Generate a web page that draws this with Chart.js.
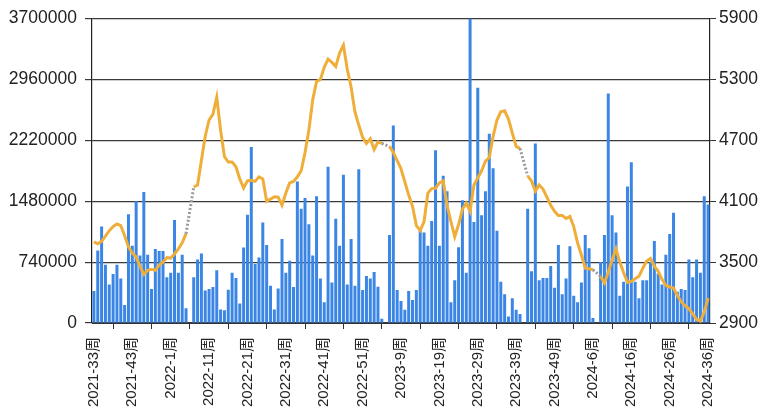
<!DOCTYPE html>
<html>
<head>
<meta charset="utf-8">
<script src="https://cdn.jsdelivr.net/npm/chart.js@4.4.0/dist/chart.umd.min.js"></script>
<style>
  html, body { margin: 0; padding: 0; background: #fff; }
</style>
</head>
<body>
<canvas id="chart" width="764" height="407"></canvas>
<script>
// week ranges shown on the x axis: [year, first week, last week]
const weekRanges = [[2021, 33, 52], [2022, 1, 52], [2023, 1, 53], [2024, 1, 36]];

// weekly volume (left axis), null = no data that week
const volume2021 = [388000, 880000, 1172000, 708000, 468000, 596000, 708000, 540000, 220000, 1320000,
  940000, 1480000, 820000, 1592000, 828000, 412000, 900000, 876000, 876000, 556000];
const volume2022 = [612000, 1252000, 612000, 828000, 180000, null, 556000, 772000, 844000, 396000,
  412000, 436000, 640000, 164000, 156000, 404000, 612000, 548000, 236000, 916000,
  1316000, 2140000, 716000, 796000, 1220000, 948000, 452000, 164000, 420000, 1020000,
  612000, 756000, 436000, 1720000, 1388000, 1520000, 1200000, 820000, 1540000, 540000,
  252000, 1900000, 492000, 1268000, 940000, 1800000, 468000, 1020000, 452000, 1868000,
  400000, 572000];
const volume2023 = [540000, 620000, 440000, 52000, null, 1068000, 2400000, 400000, 268000, 160000,
  388000, 280000, 400000, 1120000, 1100000, 940000, 1240000, 2100000, 940000, 1788000,
  1600000, 252000, 520000, 920000, 1492000, 612000, 3700000, 1228000, 2860000, 1308000,
  1600000, 2300000, 1880000, 1120000, 500000, 348000, 80000, 300000, 160000, 108000,
  null, 1388000, 628000, 2180000, 520000, 548000, 548000, 692000, 428000, 948000,
  348000, 540000, 932000];
const volume2024 = [332000, 252000, 492000, 1068000, 908000, 60000, null, 740000, 1068000, 2788000,
  1308000, 1100000, 332000, 500000, 1660000, 1952000, 500000, 300000, 520000, 520000,
  740000, 996000, 600000, 468000, 828000, 1080000, 1340000, 380000, 412000, 400000,
  772000, 556000, 772000, 612000, 1540000, 1440000];

// weekly price (right axis)
const price2021 = [3700, 3680, 3705, 3755, 3810, 3850, 3875, 3860, 3760, 3650,
  3590, 3550, 3460, 3380, 3420, 3430, 3420, 3470, 3500, 3545];
const price2022 = [3540, 3580, 3630, 3690, 3780, null, 4240, 4260, 4500, 4740,
  4900, 4955, 5124, 4800, 4540, 4486, 4486, 4440, 4320, 4230,
  4300, 4306, 4295, 4340, 4320, 4100, 4120, 4143, 4140, 4060,
  4180, 4280, 4295, 4340, 4400, 4580, 4800, 5100, 5280, 5300,
  5420, 5500, 5467, 5427, 5560, 5637, 5400, 5225, 4980, 4850,
  4730, 4670];
const price2023 = [4715, 4610, 4685, 4670, null, 4640, 4580, 4500, 4420, 4290,
  4160, 4050, 3860, 3810, 3900, 4180, 4224, 4228, 4280, 4300,
  4060, 3900, 3750, 3870, 4020, 4080, 4000, 4260, 4330, 4400,
  4495, 4530, 4740, 4900, 4980, 4990, 4910, 4770, 4640, 4620,
  null, 4350, 4300, 4200, 4260, 4220, 4140, 4060, 4000, 3960,
  3960, 3930, 3950];
const price2024 = [3850, 3690, 3570, 3440, 3435, 3425, null, 3360, 3295, 3400,
  3520, 3630, 3500, 3395, 3300, 3310, 3335, 3360, 3440, 3510,
  3535, 3460, 3410, 3330, 3270, 3255, 3245, 3170, 3110, 3070,
  3040, 2990, 2935, 2920, 3010, 3145];

const weeks = [];
weekRanges.forEach(([year, from, to]) => {
    for (let w = from; w <= to; w++) weeks.push(year + '-' + w + '周');
});
const volume = [].concat(volume2021, volume2022, volume2023, volume2024);
const price = [].concat(price2021, price2022, price2023, price2024);

const fontFamily = "'Liberation Sans', Arial, 'Noto Sans CJK SC', sans-serif";
const gapStyle = (ctx, value) => (ctx.p0.skip || ctx.p1.skip ? value : undefined);

new Chart(document.getElementById('chart').getContext('2d'), {
    data: {
        labels: weeks,
        datasets: [{
            type: 'line',
            label: '价格',
            data: price,
            yAxisID: 'y1',
            borderColor: '#efae3a',
            borderWidth: 3,
            pointRadius: 0,
            tension: 0,
            spanGaps: true,
            order: 0,
            segment: {
                borderColor: ctx => gapStyle(ctx, '#9a9a9a'),
                borderDash: ctx => gapStyle(ctx, [2, 2]),
            },
        }, {
            type: 'bar',
            label: '成交量',
            data: volume,
            yAxisID: 'y',
            backgroundColor: '#3b86e4',
            barPercentage: 0.78,
            categoryPercentage: 1,
            order: 1,
        }],
    },
    options: {
        responsive: false,
        animation: false,
        layout: { padding: { top: 17, left: 0, right: 0, bottom: 0 } },
        plugins: { legend: { display: false }, tooltip: { enabled: false } },
        scales: {
            x: {
                offset: true,
                grid: { drawOnChartArea: false, color: '#333', tickLength: 6 },
                border: { color: '#333' },
                ticks: {
                    autoSkip: false,
                    maxRotation: 90,
                    minRotation: 90,
                    padding: 8,
                    color: '#222',
                    font: { family: fontFamily, size: 15 },
                    callback: function (value, index) {
                        return index % 10 === 0 ? this.getLabelForValue(value) : null;
                    },
                },
                afterFit: scale => { scale.height = 84; },
            },
            y: {
                position: 'left',
                min: 0,
                max: 3700000,
                grid: { color: '#3a3a3a', lineWidth: 1.2, tickLength: 7 },
                border: { color: '#222', width: 1.2 },
                ticks: {
                    stepSize: 740000,
                    padding: 8,
                    color: '#222',
                    font: { family: fontFamily, size: 17.5 },
                    callback: v => String(v),
                },
                afterFit: scale => { scale.width = 92; },
            },
            y1: {
                position: 'right',
                min: 2900,
                max: 5900,
                grid: { drawOnChartArea: false, color: '#333', tickLength: 6 },
                border: { color: '#222', width: 1.2 },
                ticks: {
                    stepSize: 600,
                    padding: 3,
                    color: '#222',
                    font: { family: fontFamily, size: 17.5 },
                    callback: v => String(v),
                },
                afterFit: scale => { scale.width = 54; },
            },
        },
    },
});
</script>
</body>
</html>
